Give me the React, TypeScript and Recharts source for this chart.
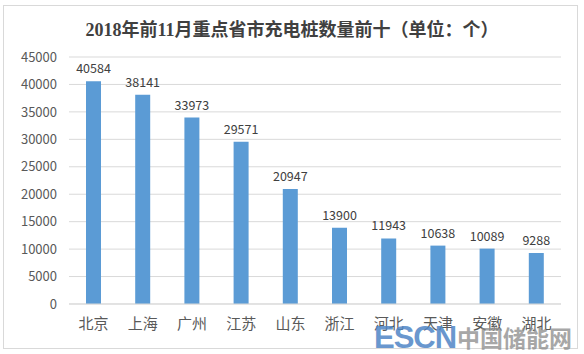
import React from "react";
import { BarChart, Bar, XAxis, YAxis, CartesianGrid, LabelList } from "recharts";

const categories = ["北京", "上海", "广州", "江苏", "山东", "浙江", "河北", "天津", "安徽", "湖北"];
const counts = [40584, 38141, 33973, 29571, 20947, 13900, 11943, 10638, 10089, 9288];
const yTicks = [0, 5000, 10000, 15000, 20000, 25000, 30000, 35000, 40000, 45000];
const title = "2018年前11月重点省市充电桩数量前十（单位：个）";

const data = categories.map((name, i) => ({ name, value: counts[i] }));

const sans = "'Noto Sans CJK SC', 'Noto Sans', sans-serif";

export default function App() {
  return (
    <div style={{ position: "absolute", left: 0, top: 0, width: 584, height: 354, background: "#fff", overflow: "hidden" }}>
      <div
        style={{
          position: "absolute",
          left: 3,
          top: 5,
          width: 575,
          height: 344,
          border: "1px solid #d9d9d9",
          boxSizing: "border-box",
        }}
      />
      <div
        style={{
          position: "absolute",
          left: 0,
          width: 584,
          top: 17,
          textAlign: "center",
          fontFamily: "'Liberation Serif', 'Noto Sans CJK SC', serif",
          fontWeight: 700,
          fontSize: 18,
          lineHeight: "26px",
          color: "#404040",
        }}
      >
        {title}
      </div>
      <div style={{ position: "absolute", left: 0, top: 0 }}>
        <BarChart
          width={584}
          height={354}
          data={data}
          margin={{ top: 57, right: 23, bottom: 10, left: 0 }}
          barSize={15}
        >
          <CartesianGrid vertical={false} stroke="#d9d9d9" />
          <XAxis
            dataKey="name"
            height={40}
            tickLine={false}
            axisLine={{ stroke: "#d9d9d9" }}
            tickMargin={8}
            interval={0}
            tick={{ fill: "#595959", fontSize: 15, fontFamily: sans }}
          />
          <YAxis
            width={69}
            domain={[0, 45000]}
            ticks={yTicks}
            interval={0}
            tickLine={false}
            axisLine={false}
            tickMargin={6}
            tick={{ fill: "#595959", fontSize: 13, fontFamily: sans }}
          />
          <Bar dataKey="value" fill="#5b9bd5" isAnimationActive={false}>
            <LabelList
              dataKey="value"
              position="top"
              offset={8}
              style={{ fill: "#404040", fontSize: 12.5, fontFamily: sans }}
            />
          </Bar>
        </BarChart>
      </div>
      <div
        style={{
          position: "absolute",
          left: 374,
          top: 320,
          fontFamily: "'Liberation Sans', Arial, sans-serif",
          fontWeight: 900,
          fontSize: 31,
          lineHeight: "36px",
          color: "#4f86c6",
          opacity: 0.85,
          letterSpacing: -1,
        }}
      >
        ESCN
      </div>
      <div
        style={{
          position: "absolute",
          left: 457,
          top: 320,
          fontFamily: sans,
          fontWeight: 700,
          fontSize: 23,
          lineHeight: "34px",
          color: "#8a8a8a",
          opacity: 0.75,
        }}
      >
        中国储能网
      </div>
    </div>
  );
}
